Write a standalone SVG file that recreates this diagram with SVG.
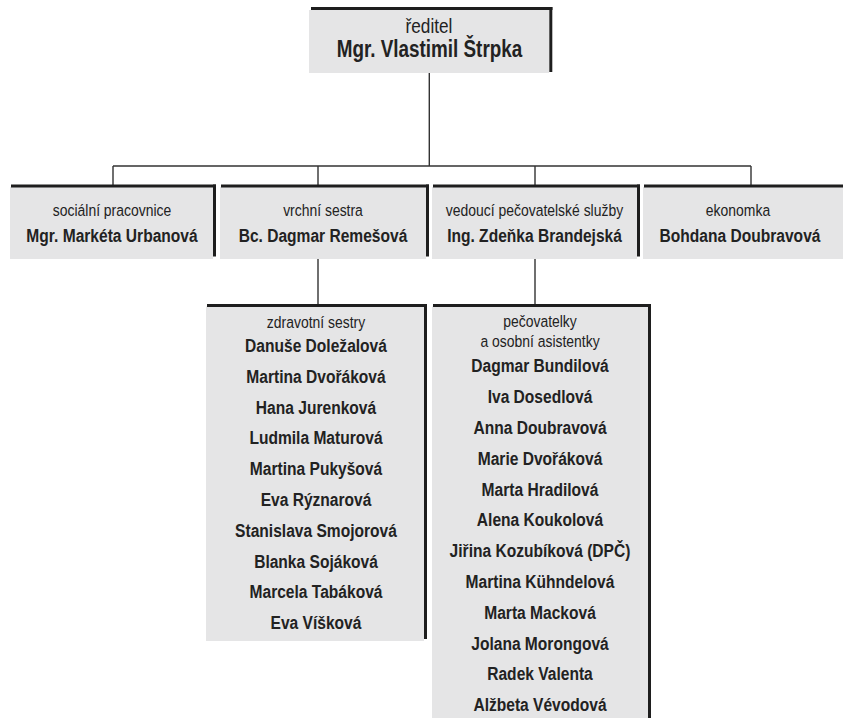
<svg xmlns="http://www.w3.org/2000/svg" width="843" height="718" viewBox="0 0 843 718">
<style>
.fill{fill:#e5e5e6}
.edge{fill:#1e1e1e}
.con{stroke:#333;stroke-width:1.4;fill:none}
text{font-family:"Liberation Sans",Arial,sans-serif;fill:#222;text-anchor:middle}
.sub{font-size:17px}
.nm{font-size:19px;font-weight:bold}
</style>
<rect width="843" height="718" fill="#fff"/>
<g id="connectors">
<path class="con" d="M429.3,73 V166 M113,166 H751 M113,166 V185 M318,166 V185 M535,166 V185 M751,166 V185 M318,259 V304 M535,259 V304"/>
</g>
<g id="reditel">
<rect class="fill" x="309" y="10" width="240" height="63"/>
<rect class="edge" x="311" y="7" width="241.5" height="3"/>
<rect class="edge" x="549.3" y="7" width="3" height="65"/>
<text transform="translate(429,33) scale(0.86,1)" style="font-size:20px">ředitel</text>
<text transform="translate(429.5,57) scale(0.82,1)" style="font-size:23px;font-weight:bold">Mgr. Vlastimil Štrpka</text>
</g>
<g id="socialni">
<rect class="fill" x="10" y="187" width="203" height="72"/>
<rect class="edge" x="11" y="184.5" width="205" height="3"/>
<rect class="edge" x="213" y="184.5" width="3" height="72"/>
<text class="sub" transform="translate(112,216) scale(0.82,1)">sociální pracovnice</text>
<text class="nm" transform="translate(112,242) scale(0.82,1)">Mgr. Markéta Urbanová</text>
</g>
<g id="vrchni">
<rect class="fill" x="220" y="187" width="206" height="72"/>
<rect class="edge" x="221" y="184.5" width="208" height="3"/>
<rect class="edge" x="426" y="184.5" width="3" height="72"/>
<text class="sub" transform="translate(323,216) scale(0.82,1)">vrchní sestra</text>
<text class="nm" transform="translate(323,242) scale(0.82,1)">Bc. Dagmar Remešová</text>
</g>
<g id="vedouci">
<rect class="fill" x="432" y="187" width="205" height="72"/>
<rect class="edge" x="433" y="184.5" width="207" height="3"/>
<rect class="edge" x="637" y="184.5" width="3" height="72"/>
<text class="sub" transform="translate(534.5,216) scale(0.82,1)">vedoucí pečovatelské služby</text>
<text class="nm" transform="translate(534.5,242) scale(0.82,1)">Ing. Zdeňka Brandejská</text>
</g>
<g id="ekonomka">
<rect class="fill" x="643" y="187" width="210" height="72"/>
<rect class="edge" x="644" y="184.5" width="210" height="3"/>
<text class="sub" transform="translate(738,216) scale(0.82,1)">ekonomka</text>
<text class="nm" transform="translate(740,242) scale(0.82,1)">Bohdana Doubravová</text>
</g>
<g id="zdravotni">
<rect class="fill" x="206" y="306.5" width="218" height="334.5"/>
<rect class="edge" x="207" y="304" width="220" height="3"/>
<rect class="edge" x="424" y="304" width="3" height="335"/>
<text class="sub" transform="translate(316,328) scale(0.82,1)">zdravotní sestry</text>
<text class="nm" transform="translate(316,352) scale(0.82,1)">Danuše Doležalová</text>
<text class="nm" transform="translate(316,382.8) scale(0.82,1)">Martina Dvořáková</text>
<text class="nm" transform="translate(316,413.6) scale(0.82,1)">Hana Jurenková</text>
<text class="nm" transform="translate(316,444.4) scale(0.82,1)">Ludmila Maturová</text>
<text class="nm" transform="translate(316,475.2) scale(0.82,1)">Martina Pukyšová</text>
<text class="nm" transform="translate(316,506) scale(0.82,1)">Eva Rýznarová</text>
<text class="nm" transform="translate(316,536.8) scale(0.82,1)">Stanislava Smojorová</text>
<text class="nm" transform="translate(316,567.6) scale(0.82,1)">Blanka Sojáková</text>
<text class="nm" transform="translate(316,598.4) scale(0.82,1)">Marcela Tabáková</text>
<text class="nm" transform="translate(316,629.2) scale(0.82,1)">Eva Víšková</text>
</g>
<g id="pecovatelky">
<rect class="fill" x="432" y="306.5" width="216" height="420"/>
<rect class="edge" x="433" y="304" width="218" height="3"/>
<rect class="edge" x="648" y="304" width="3" height="420"/>
<text class="sub" transform="translate(540,327) scale(0.82,1)">pečovatelky</text>
<text class="sub" transform="translate(540,347) scale(0.82,1)">a osobní asistentky</text>
<text class="nm" transform="translate(540,372.3) scale(0.82,1)">Dagmar Bundilová</text>
<text class="nm" transform="translate(540,403.1) scale(0.82,1)">Iva Dosedlová</text>
<text class="nm" transform="translate(540,433.9) scale(0.82,1)">Anna Doubravová</text>
<text class="nm" transform="translate(540,464.7) scale(0.82,1)">Marie Dvořáková</text>
<text class="nm" transform="translate(540,495.5) scale(0.82,1)">Marta Hradilová</text>
<text class="nm" transform="translate(540,526.3) scale(0.82,1)">Alena Koukolová</text>
<text class="nm" transform="translate(540,557.1) scale(0.82,1)">Jiřina Kozubíková (DPČ)</text>
<text class="nm" transform="translate(540,587.9) scale(0.82,1)">Martina Kühndelová</text>
<text class="nm" transform="translate(540,618.7) scale(0.82,1)">Marta Macková</text>
<text class="nm" transform="translate(540,649.5) scale(0.82,1)">Jolana Morongová</text>
<text class="nm" transform="translate(540,680.3) scale(0.82,1)">Radek Valenta</text>
<text class="nm" transform="translate(540,711.1) scale(0.82,1)">Alžbeta Vévodová</text>
</g>
</svg>
